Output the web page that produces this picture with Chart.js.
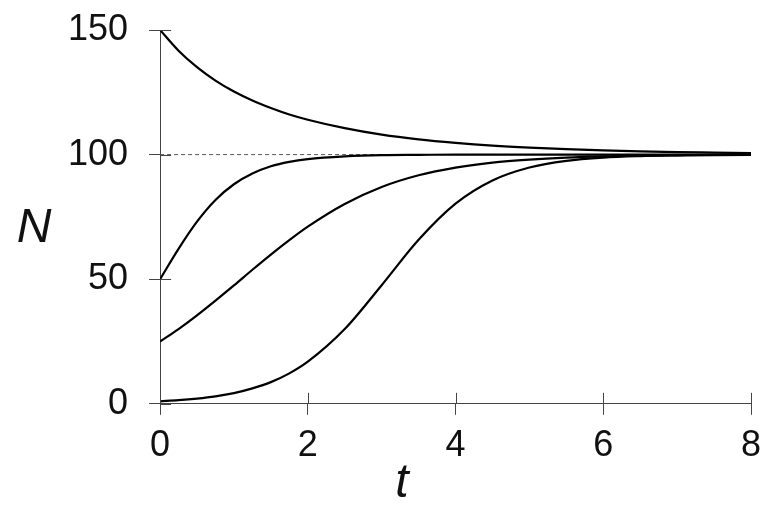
<!DOCTYPE html>
<html>
<head>
<meta charset="utf-8">
<script src="https://cdn.jsdelivr.net/npm/chart.js@4/dist/chart.umd.min.js"></script>
<style>
    html, body { margin: 0; padding: 0; background: #fff; }
    #wrap { width: 771px; height: 512px; }
</style>
</head>
<body>
<div id="wrap"><canvas id="logisticChart"></canvas></div>
<script>
// values (finer steps where the curves bend fast)
const tValues = [0, 0.25, 0.5, 0.75, 1, 1.25, 1.5, 1.75, 2, 2.5, 3, 3.5, 4, 4.5, 5, 5.5, 6, 6.5, 7, 7.5, 8];
const fromAbove = [150, 141.7, 135.1, 129.7, 125.3, 121.7, 118.7, 116.1, 114.0, 110.6, 108.0, 106.1, 104.7, 103.6, 102.8, 102.2, 101.7, 101.3, 101.0, 100.8, 100.6];
const fromHalf = [50, 62.2, 73.1, 81.8, 88.1, 92.4, 95.3, 97.1, 98.2, 99.3, 99.8, 99.9, 100, 100, 100, 100, 100, 100, 100, 100, 100];
const fromQuarter = [25, 30.0, 35.5, 41.4, 47.5, 53.8, 59.9, 65.7, 71.1, 80.2, 87.0, 91.7, 94.8, 96.8, 98.0, 98.8, 99.3, 99.6, 99.7, 99.8, 99.9];
const fromOne = [1.0, 1.45, 2.1, 3.0, 4.3, 6.2, 8.7, 12.2, 16.9, 30.0, 47.6, 65.8, 80.3, 89.6, 94.8, 97.5, 98.8, 99.4, 99.7, 99.9, 99.9];
const capacity = [100, 100];
const capacityT = [0, 8];
const xTicks = [0, 2, 4, 6, 8];
const yTicks = [0, 50, 100, 150];

const AXIS_COLOR = '#444';
const TICK_HALF = 11;
const FONT = '"Liberation Sans", Arial, sans-serif';

function toPoints(xs, ys) {
    return xs.map((x, i) => ({ x: x, y: ys[i] }));
}

function curve(values) {
    return {
        data: toPoints(tValues, values),
        borderColor: '#000',
        borderWidth: 2.2,
        pointRadius: 0,
        cubicInterpolationMode: 'monotone',
        fill: false,
        order: 1
    };
}

// inner half of the crossing ticks plus the axis titles
const crossTicks = {
    id: 'crossTicks',
    afterDraw(chart) {
        const ctx = chart.ctx;
        const xs = chart.scales.x;
        const ys = chart.scales.y;
        ctx.save();
        ctx.strokeStyle = AXIS_COLOR;
        ctx.lineWidth = 1;
        ctx.beginPath();
        xTicks.forEach(v => {
            const px = Math.round(xs.getPixelForValue(v)) + 0.5;
            ctx.moveTo(px, ys.bottom);
            ctx.lineTo(px, ys.bottom - TICK_HALF);
        });
        yTicks.forEach(v => {
            const py = Math.round(ys.getPixelForValue(v)) + 0.5;
            ctx.moveTo(xs.left, py);
            ctx.lineTo(xs.left + TICK_HALF, py);
        });
        ctx.stroke();

        ctx.fillStyle = '#111';
        ctx.font = 'italic 48px ' + FONT;
        ctx.textAlign = 'center';
        ctx.textBaseline = 'alphabetic';
        ctx.fillText('N', 34, 242);
        ctx.fillText('t', 402, 497);
        ctx.restore();
    }
};

const ctx = document.getElementById('logisticChart').getContext('2d');
new Chart(ctx, {
    type: 'line',
    data: {
        datasets: [
            {
                data: toPoints(capacityT, capacity),
                borderColor: '#555',
                borderWidth: 1,
                borderDash: [4, 3],
                pointRadius: 0,
                fill: false,
                order: 2
            },
            curve(fromAbove),
            curve(fromHalf),
            curve(fromQuarter),
            curve(fromOne)
        ]
    },
    options: {
        responsive: true,
        maintainAspectRatio: false,
        animation: false,
        layout: {
            padding: { left: 47, right: 20, top: 30, bottom: 34 }
        },
        plugins: {
            legend: { display: false },
            tooltip: { enabled: false }
        },
        scales: {
            x: {
                type: 'linear',
                min: 0,
                max: 8,
                afterBuildTicks: axis => { axis.ticks = xTicks.map(v => ({ value: v })); },
                afterFit: scale => { scale.paddingLeft = 0; scale.paddingRight = 0; },
                grid: {
                    drawOnChartArea: false,
                    drawTicks: true,
                    tickLength: TICK_HALF,
                    tickColor: AXIS_COLOR
                },
                border: { display: true, color: AXIS_COLOR, width: 1 },
                ticks: {
                    color: '#111',
                    padding: 10,
                    maxRotation: 0,
                    font: { family: FONT, size: 36 }
                }
            },
            y: {
                type: 'linear',
                min: 0,
                max: 150,
                afterBuildTicks: axis => { axis.ticks = yTicks.map(v => ({ value: v })); },
                afterFit: scale => { scale.paddingTop = 0; scale.paddingBottom = 0; },
                grid: {
                    drawOnChartArea: false,
                    drawTicks: true,
                    tickLength: TICK_HALF,
                    tickColor: AXIS_COLOR
                },
                border: { display: true, color: AXIS_COLOR, width: 1 },
                ticks: {
                    color: '#111',
                    padding: 21,
                    font: { family: FONT, size: 36 }
                }
            }
        }
    },
    plugins: [crossTicks]
});
</script>
</body>
</html>
